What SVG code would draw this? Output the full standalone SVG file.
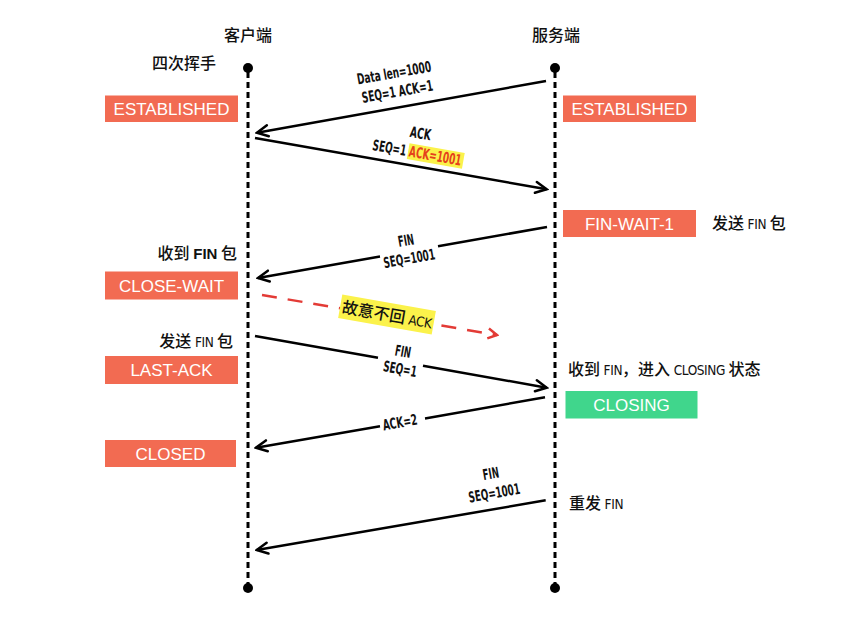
<svg xmlns="http://www.w3.org/2000/svg" width="842" height="631" viewBox="0 0 842 631">
<defs>
<style>
.bg{fill:#ffffff}
.life{stroke:#000;stroke-width:3;stroke-dasharray:6 4;fill:none}
.dot{fill:#000}
.ln{stroke:#000;stroke-width:2.5;fill:none}
.red{stroke:#e33b36;stroke-width:2.5;stroke-dasharray:15 11;fill:none}
.box{fill:#f26b52}
.gbox{fill:#40d68c}
.bt{font-family:"Liberation Sans",Arial,sans-serif;font-size:17px;fill:#fff;text-anchor:middle}
.lb{font-family:"DejaVu Sans Condensed","DejaVu Sans",sans-serif;font-stretch:condensed;font-size:15px;font-weight:bold;fill:#111;text-anchor:middle}
.cn{font-family:"Noto Sans CJK SC","Noto Sans",sans-serif;font-size:16px;font-weight:500;fill:#111}
.la{font-family:"DejaVu Sans Condensed","DejaVu Sans",sans-serif;font-stretch:condensed;font-size:13.5px;font-weight:normal;letter-spacing:-0.4px}
</style>
<marker id="ah" viewBox="-13 -8 15 16" refX="0" refY="0" markerWidth="15" markerHeight="16" markerUnits="userSpaceOnUse" orient="auto">
<path d="M-11,-5.5 L0,0 L-11,5.5" fill="none" stroke="#000" stroke-width="2.5" stroke-linecap="round"/>
</marker>
<marker id="ahr" viewBox="-13 -8 15 16" refX="0" refY="0" markerWidth="15" markerHeight="16" markerUnits="userSpaceOnUse" orient="auto">
<path d="M-9,-5 L0,0 L-9,5" fill="none" stroke="#e33b36" stroke-width="2.5"/>
</marker>
</defs>
<rect class="bg" x="0" y="0" width="842" height="631"/>

<g id="titles">
<text class="cn" x="248" y="41" text-anchor="middle">客户端</text>
<text class="cn" x="556" y="41" text-anchor="middle">服务端</text>
<text class="cn" x="152" y="69">四次挥手</text>
</g>

<g id="client-lifeline">
<line class="life" x1="248" y1="72" x2="248" y2="584"/>
<circle class="dot" cx="248" cy="68" r="5"/>
<circle class="dot" cx="248" cy="588" r="5"/>
</g>
<g id="server-lifeline">
<line class="life" x1="555" y1="72" x2="555" y2="584"/>
<circle class="dot" cx="555" cy="68" r="5"/>
<circle class="dot" cx="555" cy="588" r="5"/>
</g>

<g id="client-established"><rect class="box" x="105" y="95.5" width="133" height="26.5"/><text class="bt" x="171.5" y="114.8">ESTABLISHED</text></g>
<g id="server-established"><rect class="box" x="563" y="95.5" width="133" height="26.5"/><text class="bt" x="629.5" y="114.8">ESTABLISHED</text></g>
<g id="fin-wait-1"><rect class="box" x="563" y="210" width="133" height="27"/><text class="bt" x="629.5" y="229.6">FIN-WAIT-1</text></g>
<g id="close-wait"><rect class="box" x="105" y="271.5" width="133" height="28"/><text class="bt" x="171.5" y="291.6">CLOSE-WAIT</text></g>
<g id="last-ack"><rect class="box" x="105" y="356" width="133" height="28"/><text class="bt" x="171.5" y="376.1">LAST-ACK</text></g>
<g id="closing"><rect class="gbox" x="565.5" y="391" width="132" height="27.5"/><text class="bt" x="631.5" y="410.8">CLOSING</text></g>
<g id="closed"><rect class="box" x="105" y="440" width="131" height="27"/><text class="bt" x="170.5" y="459.6">CLOSED</text></g>

<g id="notes">
<text class="cn" x="712" y="229">发送 <tspan class="la">FIN</tspan> 包</text>
<text class="cn" x="237" y="259" text-anchor="end">收到 <tspan font-family="Liberation Sans,Arial,sans-serif" font-weight="bold" font-size="15px">FIN</tspan> 包</text>
<text class="cn" x="233" y="346.5" text-anchor="end">发送 <tspan class="la">FIN</tspan> 包</text>
<text class="cn" x="568" y="375">收到 <tspan class="la">FIN</tspan>，进入 <tspan class="la">CLOSING</tspan> 状态</text>
<text class="cn" x="569" y="508.5">重发 <tspan class="la">FIN</tspan></text>
</g>

<g id="connectors">
<line class="ln" x1="546" y1="81" x2="257" y2="132.7" marker-end="url(#ah)"/>
<line class="ln" x1="255" y1="138" x2="546.7" y2="189.3" marker-end="url(#ah)"/>
<line class="ln" x1="547" y1="227" x2="438" y2="246.2"/>
<line class="ln" x1="380" y1="256.5" x2="258" y2="278" marker-end="url(#ah)"/>
<line class="red" x1="262" y1="295" x2="497" y2="335" marker-end="url(#ahr)"/>
<line class="ln" x1="255" y1="336" x2="378" y2="357.8"/>
<line class="ln" x1="423" y1="365.8" x2="546.7" y2="387.7" marker-end="url(#ah)"/>
<line class="ln" x1="545" y1="397.3" x2="425" y2="418.4"/>
<line class="ln" x1="380" y1="426.3" x2="256" y2="447.7" marker-end="url(#ah)"/>
<line class="ln" x1="545.7" y1="500.3" x2="256.7" y2="550" marker-end="url(#ah)"/>
</g>

<g id="connector-labels">
<g transform="translate(400,107.1) rotate(-10)">
<text class="lb" x="0" y="-29.5" textLength="75" lengthAdjust="spacingAndGlyphs">Data len=1000</text>
<text class="lb" x="0" y="-10.6" textLength="72" lengthAdjust="spacingAndGlyphs">SEQ=1 ACK=1</text>
</g>
<g transform="translate(414.7,166.1) rotate(10)">
<rect x="-9" y="-21.5" width="56" height="16" fill="#fbf24b"/>
<text class="lb" x="0" y="-28" textLength="21" lengthAdjust="spacingAndGlyphs">ACK</text>
<text class="lb" x="0" y="-8.5" textLength="90" lengthAdjust="spacingAndGlyphs">SEQ=1 <tspan fill="#e5411c">ACK=1001</tspan></text>
</g>
<g transform="translate(408,251.5) rotate(-10)">
<text class="lb" x="0" y="-6" textLength="16" lengthAdjust="spacingAndGlyphs">FIN</text>
<text class="lb" x="0" y="12.3" textLength="52" lengthAdjust="spacingAndGlyphs">SEQ=1001</text>
</g>
<g transform="translate(387,314.5) rotate(10)">
<rect x="-47.5" y="-12" width="95" height="24" fill="#fbf24b"/>
<text class="cn" x="0" y="6" text-anchor="middle">故意不回 <tspan class="la">ACK</tspan></text>
</g>
<g transform="translate(401.3,361.9) rotate(10)">
<text class="lb" x="0" y="-5.3" textLength="16" lengthAdjust="spacingAndGlyphs">FIN</text>
<text class="lb" x="0" y="12.3" textLength="34" lengthAdjust="spacingAndGlyphs">SEQ=1</text>
</g>
<g transform="translate(400,422.6) rotate(-10)">
<text class="lb" x="0" y="5" textLength="35" lengthAdjust="spacingAndGlyphs">ACK=2</text>
</g>
<g transform="translate(497,508.7) rotate(-10)">
<text class="lb" x="0" y="-30.4" textLength="16" lengthAdjust="spacingAndGlyphs">FIN</text>
<text class="lb" x="0" y="-10.7" textLength="52" lengthAdjust="spacingAndGlyphs">SEQ=1001</text>
</g>
</g>
</svg>
